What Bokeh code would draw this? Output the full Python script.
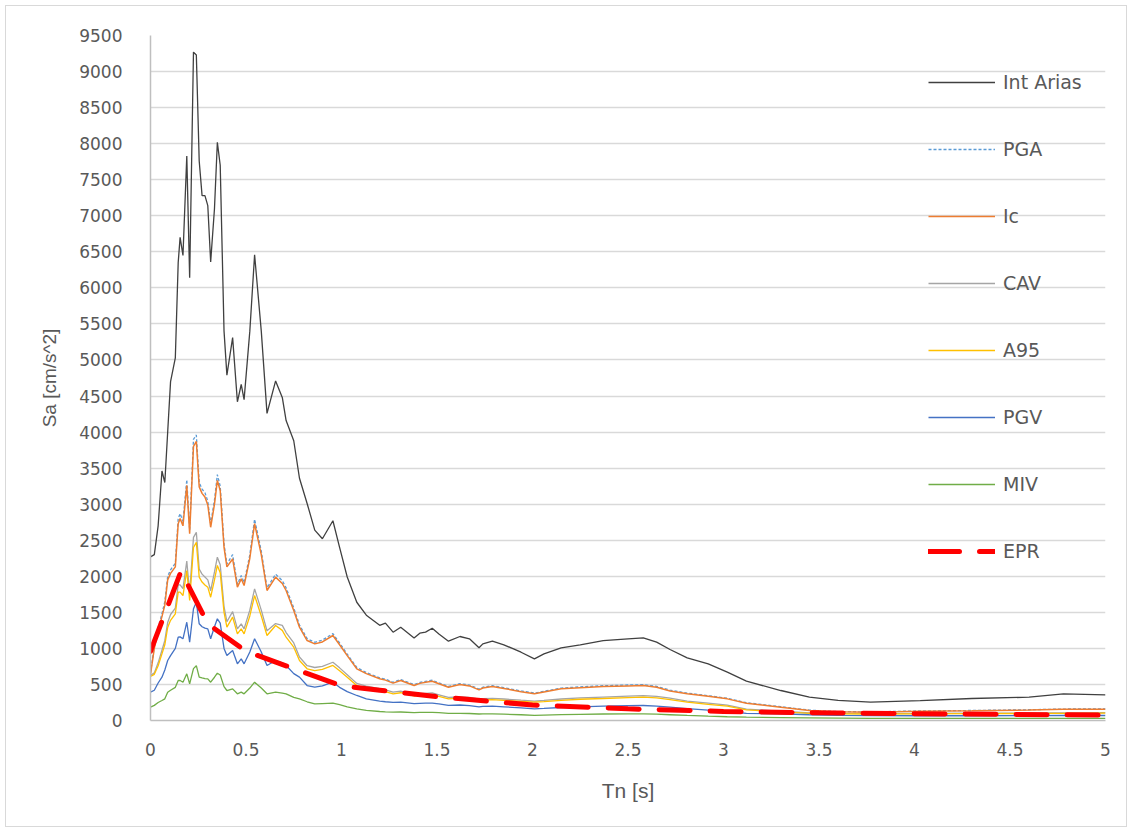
from bokeh.plotting import figure
from bokeh.models import Legend, LegendItem, FixedTicker, Range1d
from bokeh.embed import file_html
from bokeh.resources import INLINE

tn = [0, 0.02, 0.04, 0.06, 0.075, 0.09, 0.105, 0.13, 0.145, 0.155,
      0.17, 0.19, 0.205, 0.225, 0.24, 0.255, 0.27, 0.285, 0.30, 0.315,
      0.335, 0.35, 0.365, 0.385, 0.40, 0.43, 0.455, 0.475, 0.49, 0.52,
      0.545, 0.58, 0.61, 0.655, 0.69, 0.71, 0.75, 0.78, 0.82, 0.86,
      0.90, 0.955, 0.99, 1.03, 1.08, 1.13, 1.2, 1.23, 1.27, 1.31,
      1.38, 1.41, 1.44, 1.475, 1.51, 1.56, 1.62, 1.67, 1.72, 1.74,
      1.79, 1.85, 1.94, 2.01, 2.06, 2.15, 2.25, 2.37, 2.5, 2.58,
      2.65, 2.72, 2.81, 2.92, 3.02, 3.12, 3.3, 3.45, 3.6, 3.77,
      4.03, 4.3, 4.6, 4.78, 5.0]

int_arias = [2270, 2300, 2700, 3460, 3300, 4000, 4700, 5030, 6350, 6700,
             6450, 7830, 6140, 9270, 9230, 7760, 7280, 7280, 7140, 6360,
             7100, 8020, 7700, 5400, 4790, 5310, 4420, 4660, 4450, 5400,
             6460, 5400, 4260, 4710, 4480, 4160, 3880, 3360, 3010, 2640,
             2520, 2770, 2400, 1990, 1640, 1460, 1320, 1350, 1225, 1294,
             1145, 1211, 1225, 1280, 1200, 1100, 1165, 1133, 1008, 1063,
             1100, 1050, 947, 855, 924, 1008, 1050, 1109, 1133, 1147,
             1086, 985, 869, 786, 670, 545, 416, 323, 280, 254,
             277, 305, 323, 370, 356]

pga = [660, 1030, 1290, 1480, 1650, 2000, 2090, 2180, 2800, 2870,
       2760, 3340, 2640, 3900, 3960, 3300, 3210, 3160, 3040, 2730,
       3060, 3410, 3250, 2450, 2170, 2300, 1890, 2010, 1910, 2300,
       2790, 2350, 1840, 2030, 1940, 1840, 1560, 1325, 1135, 1085,
       1115, 1205, 1075, 920, 735, 665, 592, 573, 530, 568,
       497, 527, 543, 558, 522, 473, 511, 492, 436, 461,
       482, 456, 410, 380, 405, 450, 466, 482, 492, 497,
       473, 421, 380, 344, 308, 247, 191, 144, 124, 119,
       133, 139, 149, 159, 161]

ic = [640, 1000, 1250, 1440, 1600, 1950, 2040, 2130, 2730, 2800,
      2700, 3260, 2590, 3800, 3870, 3240, 3150, 3100, 2990, 2680,
      3000, 3330, 3190, 2400, 2130, 2240, 1850, 1965, 1872, 2250,
      2730, 2300, 1803, 1988, 1900, 1803, 1525, 1294, 1109, 1063,
      1090, 1179, 1050, 900, 717, 650, 578, 560, 518, 555,
      485, 515, 530, 545, 510, 462, 499, 480, 425, 450,
      471, 445, 400, 370, 395, 439, 455, 471, 480, 485,
      462, 410, 370, 335, 300, 240, 185, 139, 120, 115,
      129, 135, 145, 155, 157]

cav = [625, 660, 800, 975, 1110, 1360, 1470, 1560, 1880, 1880,
       1830, 2210, 1760, 2540, 2610, 2100, 2030, 1990, 1950, 1800,
       2060, 2265, 2160, 1580, 1370, 1510, 1270, 1340, 1270, 1530,
       1826, 1530, 1245, 1345, 1320, 1220, 1075, 880, 760, 735,
       752, 808, 730, 635, 515, 478, 442, 425, 393, 408,
       362, 372, 377, 382, 356, 319, 329, 319, 295, 303,
       308, 298, 282, 270, 279, 298, 314, 325, 338, 344,
       335, 309, 270, 240, 213, 158, 128, 107, 98, 96,
       98, 101, 104, 106, 108]

a95 = [610, 640, 760, 924, 1050, 1290, 1390, 1480, 1780, 1780,
       1733, 2080, 1664, 2400, 2470, 1988, 1920, 1880, 1849, 1710,
       1950, 2150, 2050, 1500, 1294, 1433, 1202, 1271, 1202, 1450,
       1733, 1450, 1179, 1317, 1250, 1155, 1017, 832, 717, 693,
       710, 763, 690, 600, 485, 450, 416, 400, 370, 385,
       340, 350, 355, 360, 335, 300, 310, 300, 277, 285,
       290, 280, 265, 254, 262, 280, 295, 305, 318, 323,
       315, 290, 254, 225, 200, 148, 120, 100, 92, 90,
       92, 95, 98, 100, 101]

pgv = [393, 420, 520, 601, 700, 832, 900, 1000, 1155, 1160,
       1133, 1363, 1086, 1550, 1640, 1341, 1300, 1280, 1271, 1133,
       1300, 1410, 1350, 1000, 901, 971, 786, 855, 786, 950,
       1133, 950, 763, 832, 800, 763, 650, 601, 485, 462,
       480, 531, 460, 400, 347, 300, 270, 260, 250, 255,
       235, 238, 240, 240, 230, 210, 215, 205, 190, 195,
       198, 190, 175, 162, 168, 180, 190, 200, 205, 208,
       200, 185, 165, 145, 125, 100, 92, 80, 72, 68,
       66, 66, 68, 69, 69]

miv = [185, 210, 250, 277, 300, 393, 420, 460, 555, 555,
       531, 647, 509, 720, 760, 601, 590, 580, 578, 531,
       600, 656, 630, 470, 416, 439, 370, 393, 370, 450,
       531, 450, 370, 393, 380, 370, 320, 300, 260, 231,
       235, 240, 220, 190, 162, 140, 125, 120, 115, 118,
       110, 112, 113, 113, 108, 100, 100, 97, 90, 92,
       93, 88, 80, 70, 75, 82, 86, 90, 92, 92,
       88, 80, 70, 60, 52, 46, 40, 36, 33, 30,
       30, 30, 30, 30, 30]

tn_epr = [0, 0.16, 0.3, 0.5, 1.0, 1.2, 1.5, 2.0, 2.5, 3.0, 3.5, 4.0, 4.5, 5.0]
epr = [960, 2070, 1340, 960, 480, 420, 330, 215, 162, 125, 106, 95, 84, 74]

x_ticks = [0, 0.5, 1, 1.5, 2, 2.5, 3, 3.5, 4, 4.5, 5]
x_tick_labels = ["0", "0.5", "1", "1.5", "2", "2.5", "3", "3.5", "4", "4.5", "5"]
y_ticks = list(range(0, 9501, 500))

TXT = "#595959"
GRID = "#D9D9D9"

p = figure(width=1122, height=822, output_backend="svg", toolbar_location=None,
           x_range=Range1d(0, 5), y_range=Range1d(0, 9500),
           min_border_left=144, min_border_right=23, min_border_top=29,
           min_border_bottom=108)
p.styles = {"margin-left": "5px", "margin-top": "5px", "border": "1px solid #D9D9D9"}
p.outline_line_color = None
p.background_fill_color = "white"

p.xgrid.grid_line_color = None
p.ygrid.grid_line_color = GRID
p.ygrid.grid_line_width = 1.5
p.ygrid.ticker = FixedTicker(ticks=y_ticks)

for ax in (p.xaxis[0], p.yaxis[0]):
    ax.axis_line_color = "#BFBFBF"
    ax.axis_line_width = 1.5
    ax.major_tick_line_color = None
    ax.minor_tick_line_color = None
    ax.major_label_text_color = TXT
    ax.major_label_text_font = "DejaVu Sans"
    ax.major_label_text_font_size = "17px"
    ax.axis_label_text_color = TXT
    ax.axis_label_text_font = "Liberation Sans"
    ax.axis_label_text_font_style = "normal"

p.xaxis.ticker = FixedTicker(ticks=x_ticks)
p.xaxis.major_label_overrides = {t: l for t, l in zip(x_ticks, x_tick_labels)}
p.xaxis.major_label_standoff = 16
p.xaxis.axis_label = "Tn [s]"
p.xaxis.axis_label_text_font_size = "21px"
p.xaxis.axis_label_standoff = 20

p.yaxis.ticker = FixedTicker(ticks=y_ticks)
p.yaxis.major_label_standoff = 22
p.yaxis.axis_label = "Sa [cm/s^2]"
p.yaxis.axis_label_text_font_size = "19px"
p.yaxis.axis_label_standoff = 16

r_ia = p.line(tn, int_arias, line_color="#404040", line_width=1.3)
r_pga = p.line(tn, pga, line_color="#5B9BD5", line_width=1.3, line_dash="3 2")
r_ic = p.line(tn, ic, line_color="#ED7D31", line_width=1.5)
r_cav = p.line(tn, cav, line_color="#A5A5A5", line_width=1.3)
r_a95 = p.line(tn, a95, line_color="#FFC000", line_width=1.3)
r_pgv = p.line(tn, pgv, line_color="#4472C4", line_width=1.3)
r_miv = p.line(tn, miv, line_color="#70AD47", line_width=1.3)
r_epr = p.line(tn_epr, epr, line_color="#FF0000", line_width=5, line_dash="31 20",
               line_cap="round")

items = [LegendItem(label="Int Arias", renderers=[r_ia]),
         LegendItem(label="PGA", renderers=[r_pga]),
         LegendItem(label="Ic", renderers=[r_ic]),
         LegendItem(label="CAV", renderers=[r_cav]),
         LegendItem(label="A95", renderers=[r_a95]),
         LegendItem(label="PGV", renderers=[r_pgv]),
         LegendItem(label="MIV", renderers=[r_miv]),
         LegendItem(label="EPR", renderers=[r_epr])]
leg = Legend(items=items, location=(778, 158), padding=0, margin=0,
             glyph_width=67, glyph_height=20, label_height=20, spacing=45,
             label_standoff=8, border_line_color=None, background_fill_alpha=0,
             label_text_font="DejaVu Sans", label_text_font_size="19px",
             label_text_color=TXT)
p.add_layout(leg)

open("out.html", "w").write(file_html(p, INLINE))
